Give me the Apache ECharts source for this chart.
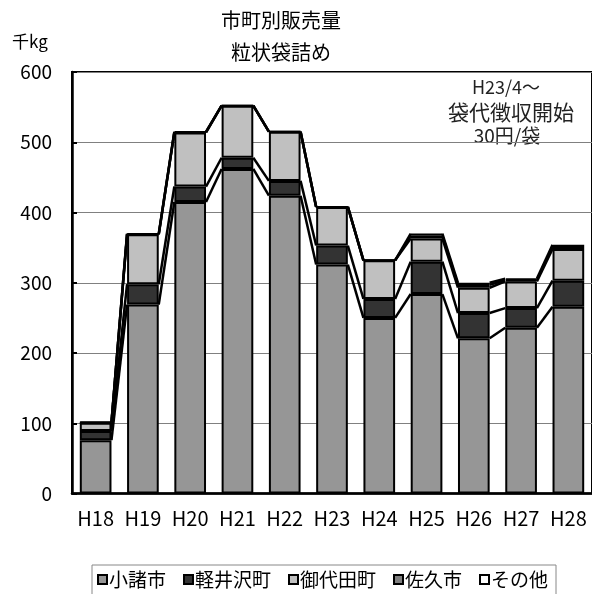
<!DOCTYPE html>
<html><head><meta charset="utf-8">
<script src="https://cdn.jsdelivr.net/npm/echarts@6/dist/echarts.min.js"></script>
<style>html,body{margin:0;padding:0;background:#fff}#c{width:592px;height:594px}</style>
</head><body><div id="c"></div>
<script>
const categories = ['H18','H19','H20','H21','H22','H23','H24','H25','H26','H27','H28'];
const seriesNames = ['小諸市','軽井沢町','御代田町','佐久市','その他'];
const komoro    = [76,269,415,462,424,326,250,284,221,236,266];
const karuizawa = [13,29,22,16,21,27,27,46,36,28,37];
const miyota    = [12,71,77,74,70,55,55,33,36,38,45];
const saku      = [0,0,0,0,0,0,0,4,4,2,3];
const sonota    = [1,1,1,0,0,0,0,3,3,2,3];
const yTicks = [0,100,200,300,400,500,600];

const values = [komoro, karuizawa, miyota, saku, sonota];
const colors = ['#969696','#333333','#c0c0c0','#808080','#ffffff'];
const FONT = '"Noto Sans CJK JP", "Liberation Sans", sans-serif';
const barFrac = 0.67;

const chart = echarts.init(document.getElementById('c'), null, {renderer:'canvas'});
const barSeries = seriesNames.map((name, k) => ({
  name, type:'bar', stack:'total', barWidth: (barFrac*100)+'%',
  data: values[k],
  itemStyle:{color:colors[k], borderColor:'#000', borderWidth:2},
  emphasis:{disabled:true}, z:2
}));
const lineSeries = {
  type:'custom', name:'lines', coordinateSystem:'cartesian2d', z:5, silent:true,
  data: categories.map((c,i)=>[i,0]),
  encode:{x:0,y:1},
  renderItem(params, api){
    const i = api.value(0);
    if (i >= categories.length-1) return null;
    const w = api.size([1,0])[0]*barFrac;
    const children = [];
    let a=0,b=0;
    for (let k=0;k<values.length;k++){
      a += values[k][i]; b += values[k][i+1];
      const p1 = api.coord([i,a]), p2 = api.coord([i+1,b]);
      children.push({type:'line', shape:{x1:p1[0]+w/2, y1:p1[1], x2:p2[0]-w/2, y2:p2[1]},
        style:{stroke:'#000', lineWidth:2.5}});
    }
    return {type:'group', children};
  }
};
chart.setOption({
  animation:false,
  grid:{left:72, top:72, width:525, height:421.6, show:true, borderColor:'#000', borderWidth:2, backgroundColor:'transparent'},
  xAxis:{type:'category', data:categories,
    axisLine:{lineStyle:{color:'#000', width:2.5}},
    axisTick:{inside:true, length:5, lineStyle:{color:'#000', width:2}},
    axisLabel:{color:'#000', fontSize:20, fontFamily:FONT, margin:15, interval:0, hideOverlap:false}},
  yAxis:{type:'value', min:yTicks[0], max:yTicks[yTicks.length-1], interval:100,
    axisLine:{show:true, lineStyle:{color:'#000', width:2.5}},
    axisTick:{show:true, inside:true, length:5, lineStyle:{color:'#000', width:2}},
    splitLine:{lineStyle:{color:'#808080', width:1}},
    axisLabel:{color:'#000', fontSize:19, fontFamily:FONT, margin:20}},
  legend:{data:seriesNames, left:92, top:565, itemWidth:9, itemHeight:9, itemGap:17,
    icon:'rect', borderColor:'#888', borderWidth:1, padding:[5,8,12,5],
    textStyle:{color:'#000', fontSize:19, fontFamily:FONT, padding:[0,0,0,-3]},
    itemStyle:{borderColor:'#000', borderWidth:2}, selectedMode:false},
  graphic:[
    {type:'text', style:{text:'市町別販売量', x:281, y:20, textAlign:'center', textVerticalAlign:'middle', font:'20px '+FONT, fill:'#000'}},
    {type:'text', style:{text:'粒状袋詰め', x:281, y:52, textAlign:'center', textVerticalAlign:'middle', font:'20px '+FONT, fill:'#000'}},
    {type:'text', style:{text:'千kg', x:12, y:42, textAlign:'left', textVerticalAlign:'middle', font:'17px '+FONT, fill:'#000'}},
    {type:'text', style:{text:'H23/4～', x:506, y:87, textAlign:'center', textVerticalAlign:'middle', font:'18px '+FONT, fill:'#222'}},
    {type:'text', style:{text:'袋代徴収開始', x:511, y:112, textAlign:'center', textVerticalAlign:'middle', font:'21px '+FONT, fill:'#222'}},
    {type:'text', style:{text:'30円/袋', x:507, y:136, textAlign:'center', textVerticalAlign:'middle', font:'19px '+FONT, fill:'#222'}}
  ],
  series: barSeries.concat([lineSeries])
});
</script></body></html>
